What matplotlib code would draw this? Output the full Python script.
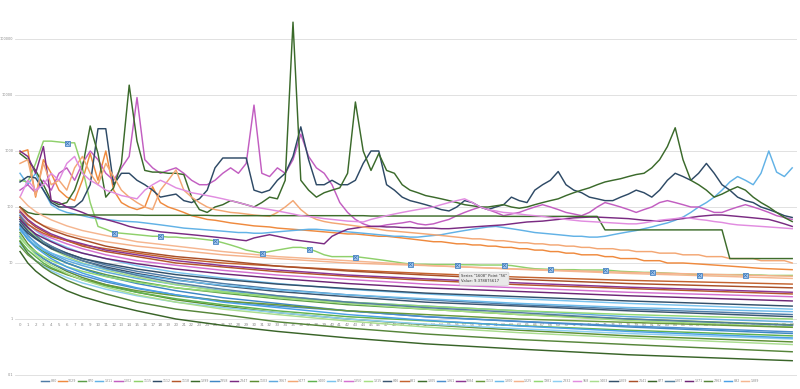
import numpy as np
import matplotlib
matplotlib.use("Agg")
import matplotlib.pyplot as plt

# category axis 0..99, log value axis
POINTS = list(range(100))
XS_SMOOTH = [0, 1, 2, 3, 4, 6, 8, 11, 15, 20, 26, 33, 42, 52, 64, 78, 99]
YTICKS = [0.1, 1, 10, 100, 1000, 10000, 100000]
YTICK_LABELS = ["0.1", "1", "10", "100", "1000", "10000", "100000"]

NAMES = ["880", "1029", "870", "1311", "1302", "1115", "1112", "1118", "1399", "2358",
         "2347", "1103", "1067", "1477", "1400", "874", "1350", "1315", "846", "881",
         "1305", "1361", "1084", "1113", "1300", "1325", "1981", "2332", "958", "1403",
         "1309", "2141", "877", "1307", "1371", "2363", "892", "1389"]

# ---- noisy series, one value per category ----
s1029 = [950, 1050, 150, 700, 400, 200, 150, 130, 300, 900,
         300, 1000, 200, 120, 100, 90, 100, 230, 120, 100,
         90, 80, 70, 65, 60, 58, 55, 52, 50, 48,
         46, 45, 44, 42, 41, 40, 39, 38, 37, 36,
         35, 34, 33, 33, 32, 31, 30, 30, 29, 28,
         27, 26, 25, 24, 24, 23, 22, 22, 21, 21,
         20, 20, 19, 19, 18, 18, 17, 17, 16, 16,
         15, 15, 14, 14, 14, 13, 13, 12, 12, 12,
         11, 11, 11, 10, 10, 10, 9.8, 9.6, 9.4, 9.2,
         9.0, 8.8, 8.6, 8.4, 8.2, 8.0, 7.9, 7.8, 7.7, 7.6]
s1311 = [400, 250, 400, 200, 110, 90, 80, 75, 70, 65,
         62, 60, 58, 56, 55, 54, 52, 50, 48, 46,
         44, 42, 41, 40, 39, 38, 37, 36, 35, 35,
         34, 34, 35, 36, 37, 38, 39, 40, 40, 39,
         38, 37, 36, 35, 34, 33, 32, 31, 30, 30,
         29, 29, 30, 31, 32, 34, 36, 38, 40, 42,
         44, 45, 43, 41, 39, 37, 35, 34, 33, 32,
         31, 30, 30, 29, 29, 30, 32, 34, 36, 38,
         41, 44, 48, 52, 58, 66, 80, 100, 120, 150,
         200, 280, 350, 300, 250, 400, 1000, 420, 350, 500]
s1302 = [200, 250, 180, 300, 200, 400, 500, 300, 600, 1000,
         700, 400, 300, 500, 800, 9000, 700, 500, 400, 450,
         500, 400, 300, 250, 250, 300, 400, 500, 400, 600,
         6600, 400, 350, 500, 400, 700, 2000, 800, 500, 400,
         250, 120, 80, 60, 50, 45, 45, 48, 50, 52,
         55, 50, 48, 50, 55, 60, 70, 80, 90, 100,
         90, 80, 70, 75, 80, 90, 100, 110, 100, 90,
         80, 75, 70, 80, 100, 120, 110, 100, 90, 80,
         90, 100, 120, 130, 120, 110, 100, 100, 90, 80,
         80, 90, 100, 110, 100, 90, 80, 70, 65, 60]
s1115 = [300, 280, 600, 1500, 1500, 1450, 1400, 1400, 500, 120,
         45, 40, 35, 34, 33, 32, 31, 30, 30, 29,
         29, 28, 28, 27, 26, 25, 23, 21, 19, 17,
         16, 15, 16, 17, 18, 19, 19, 18, 16, 14,
         13, 13, 13, 13, 12.5, 12, 11.5, 11, 10.5, 10,
         9.6, 9.5, 9.5, 9.4, 9.4, 9.4, 9.378875617, 9.3, 9.3, 9.2,
         9.2, 9.2, 9.2, 9.0, 8.6, 8.2, 7.9, 7.8, 7.7, 7.6,
         7.6, 7.6, 7.5, 7.5, 7.5, 7.5, 7.3, 7.1, 7.0, 6.9,
         6.8, 6.8, 6.7, 6.6, 6.5, 6.4, 6.3, 6.2, 6.2, 6.2,
         6.2, 6.2, 6.2, 6.2, 6.1, 6.1, 6.0, 6.0, 6.0, 6.0]
s1112 = [280, 350, 330, 200, 120, 100, 100, 100, 130, 250,
         2500, 2500, 250, 400, 400, 300, 250, 200, 150, 160,
         170, 130, 120, 140, 200, 500, 750, 750, 750, 750,
         200, 180, 200, 300, 400, 800, 2700, 700, 250, 250,
         300, 250, 250, 300, 600, 1000, 1000, 250, 200, 150,
         130, 120, 110, 100, 90, 85, 100, 130, 120, 100,
         90, 100, 110, 150, 130, 120, 200, 250, 300, 430,
         250, 200, 180, 150, 140, 130, 130, 150, 170, 200,
         180, 150, 200, 300, 400, 350, 300, 400, 600, 400,
         250, 200, 150, 130, 120, 100, 90, 80, 70, 65]
s1399 = [900, 700, 450, 250, 130, 110, 120, 200, 500, 2800,
         900, 150, 220, 600, 15000, 1500, 450, 420, 420, 400,
         400, 380, 150, 90, 80, 100, 110, 130, 120, 110,
         100, 120, 150, 140, 300, 200000, 300, 200, 150, 180,
         200, 220, 400, 7500, 1000, 450, 900, 450, 400, 250,
         200, 180, 160, 150, 140, 130, 120, 110, 105, 100,
         100, 105, 110, 100, 95, 100, 110, 120, 130, 140,
         160, 180, 200, 220, 250, 280, 300, 320, 350, 380,
         400, 500, 700, 1200, 2600, 700, 300, 250, 200, 150,
         170, 200, 230, 200, 150, 120, 100, 80, 65, 55]
s2347 = [1000, 800, 400, 1200, 130, 120, 100, 90, 80, 70,
         65, 60, 55, 50, 45, 42, 40, 38, 36, 35,
         34, 33, 32, 31, 30, 29, 28, 27, 26, 25,
         28, 30, 32, 30, 28, 26, 25, 24, 23, 22,
         30, 35, 40, 42, 44, 45, 45, 44, 44, 43,
         43, 42, 42, 42, 41, 41, 42, 43, 44, 45,
         46, 47, 48, 50, 52, 54, 55, 56, 58, 60,
         62, 64, 65, 66, 66, 65, 64, 63, 62, 60,
         58, 57, 56, 58, 60, 62, 65, 68, 70, 72,
         72, 70, 68, 66, 64, 62, 60, 55, 50, 45]
s1477 = [600, 700, 160, 600, 250, 300, 200, 500, 800, 400,
         250, 600, 350, 200, 150, 120, 100, 90, 200, 300,
         460, 200, 150, 120, 100, 90, 85, 80, 78, 75,
         72, 70, 68, 80, 100, 130, 90, 70, 60, 55,
         52, 50, 48, 46, 44, 42, 40, 38, 37, 36,
         35, 34, 33, 32, 31, 30, 29, 28, 27, 27,
         26, 25, 25, 24, 23, 23, 22, 22, 21, 21,
         20, 20, 19, 19, 18, 18, 18, 17, 17, 16,
         16, 16, 15, 15, 15, 14, 14, 14, 13, 13,
         13, 12, 12, 12, 12, 11, 11, 11, 11, 10]
s1305 = [100, 80, 74, 74, 73, 73, 73, 73, 72, 72,
         72, 72, 72, 72, 72, 72, 71, 71, 71, 71,
         71, 71, 71, 71, 71, 70, 70, 70, 70, 70,
         70, 70, 70, 70, 70, 70, 70, 70, 70, 70,
         70, 70, 70, 70, 70, 69, 69, 69, 69, 69,
         69, 69, 69, 69, 69, 69, 69, 69, 69, 69,
         69, 69, 68, 68, 68, 68, 68, 68, 68, 68,
         68, 68, 68, 68, 68, 39, 39, 39, 39, 39,
         39, 39, 39, 39, 39, 39, 39, 39, 39, 39,
         39, 12, 12, 12, 12, 12, 12, 12, 12, 12]
s958 = [150, 300, 200, 250, 400, 300, 600, 800, 400, 300,
        250, 200, 180, 160, 150, 140, 200, 250, 300, 260,
        220, 200, 180, 170, 160, 150, 140, 130, 120, 110,
        100, 95, 90, 85, 80, 75, 70, 68, 65, 62,
        60, 58, 56, 55, 54, 60, 65, 70, 75, 80,
        85, 90, 95, 100, 110, 120, 130, 140, 120, 100,
        90, 85, 80, 78, 75, 72, 70, 68, 65, 63,
        60, 58, 56, 55, 54, 53, 52, 51, 50, 50,
        52, 55, 58, 60, 62, 65, 63, 60, 58, 55,
        53, 50, 48, 47, 46, 45, 44, 43, 42, 41]

# ---- smooth decaying series, values at XS_SMOOTH ----
s880 = [60, 40, 30, 24, 20, 15, 12, 9.2, 7.1, 5.5, 4.3, 3.4, 2.7, 2.2, 1.8, 1.5, 1.2]
s870 = [40, 27, 20, 16, 13, 10, 8.0, 6.2, 4.7, 3.6, 2.9, 2.3, 1.8, 1.5, 1.2, 1.0, 0.79]
s1118 = [80, 57, 44, 37, 31, 25, 20, 16, 13, 10, 8.5, 7.0, 5.8, 4.9, 4.1, 3.5, 2.8]
s2358 = [50, 31, 23, 17, 14, 10, 7.9, 5.8, 4.3, 3.2, 2.4, 1.9, 1.4, 1.1, 0.9, 0.72, 0.55]
s1103 = [35, 22, 16, 12, 9.9, 7.1, 5.5, 4.1, 3.0, 2.2, 1.7, 1.3, 1.0, 0.79, 0.63, 0.5, 0.39]
s1067 = [45, 30, 23, 18, 15, 11, 9.0, 6.9, 5.3, 4.1, 3.2, 2.6, 2.0, 1.7, 1.4, 1.1, 0.89]
s1400 = [25, 17, 13, 10, 8.3, 6.3, 5.0, 3.9, 3.0, 2.3, 1.8, 1.4, 1.1, 0.93, 0.76, 0.63, 0.5]
s874 = [75, 50, 38, 30, 25, 19, 15, 12, 8.9, 6.8, 5.4, 4.3, 3.4, 2.8, 2.3, 1.9, 1.5]
s1350 = [70, 50, 39, 32, 28, 22, 18, 14, 11, 9.1, 7.4, 6.1, 5.1, 4.2, 3.6, 3.0, 2.5]
s1315 = [65, 41, 29, 23, 18, 13, 10, 7.5, 5.6, 4.1, 3.1, 2.4, 1.9, 1.5, 1.2, 0.94, 0.72]
s846 = [55, 37, 28, 22, 18, 14, 11, 8.5, 6.5, 5.0, 3.9, 3.1, 2.5, 2.0, 1.7, 1.4, 1.1]
s881 = [65, 49, 40, 34, 30, 25, 21, 18, 15, 12, 10, 8.8, 7.5, 6.5, 5.6, 4.9, 4.2]
s1361 = [30, 20, 15, 12, 10, 7.5, 6.0, 4.6, 3.5, 2.7, 2.1, 1.7, 1.4, 1.1, 0.91, 0.75, 0.59]
s1084 = [85, 60, 47, 39, 33, 26, 22, 17, 14, 11, 9.0, 7.5, 6.1, 5.2, 4.4, 3.7, 3.0]
s1113 = [20, 14, 11, 9.2, 7.9, 6.2, 5.1, 4.1, 3.2, 2.6, 2.1, 1.8, 1.4, 1.2, 1.0, 0.87, 0.71]
s1300 = [38, 27, 21, 17, 15, 12, 9.7, 7.8, 6.2, 4.9, 4.0, 3.3, 2.7, 2.3, 1.9, 1.6, 1.35]
s1325 = [90, 68, 55, 47, 42, 34, 29, 24, 20, 17, 14, 12, 10, 9.0, 7.8, 6.8, 5.8]
s1981 = [28, 20, 16, 13, 11, 8.6, 7.1, 5.7, 4.5, 3.6, 3.0, 2.5, 2.0, 1.7, 1.4, 1.2, 1.0]
s2332 = [22, 15, 11, 8.8, 7.3, 5.5, 4.4, 3.4, 2.6, 2.0, 1.6, 1.3, 1.0, 0.81, 0.67, 0.55, 0.44]
s1403 = [32, 20, 14, 11, 9.1, 6.5, 5.0, 3.7, 2.7, 2.0, 1.5, 1.2, 0.92, 0.72, 0.57, 0.46, 0.35]
s1309 = [48, 34, 27, 22, 19, 15, 12, 9.8, 7.8, 6.2, 5.1, 4.2, 3.5, 2.9, 2.5, 2.1, 1.7]
s2141 = [100, 71, 56, 46, 39, 31, 26, 20, 16, 13, 11, 8.8, 7.2, 6.1, 5.1, 4.3, 3.6]
s877 = [16, 10, 7.2, 5.6, 4.5, 3.2, 2.5, 1.9, 1.4, 1.0, 0.77, 0.6, 0.46, 0.36, 0.29, 0.23, 0.18]
s1307 = [70, 44, 32, 24, 20, 14, 11, 8.1, 6.0, 4.4, 3.4, 2.6, 2.0, 1.6, 1.3, 1.0, 0.77]
s1371 = [60, 43, 33, 28, 24, 18, 15, 12, 9.7, 7.8, 6.4, 5.3, 4.3, 3.6, 3.1, 2.6, 2.1]
s2363 = [24, 15, 11, 8.4, 6.8, 4.9, 3.8, 2.8, 2.0, 1.5, 1.2, 0.89, 0.69, 0.54, 0.43, 0.35, 0.26]
s892 = [42, 26, 19, 15, 12, 8.5, 6.6, 4.9, 3.6, 2.7, 2.0, 1.6, 1.2, 0.95, 0.75, 0.6, 0.46]
s1389 = [150, 106, 83, 69, 59, 46, 38, 31, 24, 20, 16, 13, 11, 9.1, 7.7, 6.5, 5.3]

# selected series handles
MARK_PTS = [6, 12, 18, 25, 31, 37, 43, 50, 56, 62, 68, 75, 81, 87, 93]

COLORS = ["#4f7ca6", "#ef8a3e", "#5b9d47", "#62b2e6", "#c25ec1", "#8fd06b", "#2e4a66", "#b4572b",
          "#3b6a2b", "#3f87c5", "#7a2b82", "#5d8e33", "#5fa9de", "#f3a774", "#5fb24f", "#79c3ee",
          "#d470d1", "#a6de83", "#3a5570", "#c4632f", "#3e6d2c", "#4b8dcd", "#8b3692", "#68983b",
          "#6bbaea", "#f4b28b", "#93d874", "#8dcef1", "#e18ce0", "#aadd8f", "#33506a", "#a94f28",
          "#396428", "#557f9e", "#6e2676", "#56853a", "#4aa0e6", "#f5b690"]

full = {"1029": s1029, "1311": s1311, "1302": s1302, "1115": s1115, "1112": s1112,
        "1399": s1399, "2347": s2347, "1477": s1477, "1305": s1305, "958": s958}
smooth = {"880": s880, "870": s870, "1118": s1118, "2358": s2358, "1103": s1103,
          "1067": s1067, "1400": s1400, "874": s874, "1350": s1350, "1315": s1315,
          "846": s846, "881": s881, "1361": s1361, "1084": s1084, "1113": s1113,
          "1300": s1300, "1325": s1325, "1981": s1981, "2332": s2332, "1403": s1403,
          "1309": s1309, "2141": s2141, "877": s877, "1307": s1307, "1371": s1371,
          "2363": s2363, "892": s892, "1389": s1389}

W, H = 800, 389
fig = plt.figure(figsize=(W / 100, H / 100), dpi=100, facecolor="white")
# pixel layout: category 0 at x=20, 7.8 px per category; 10^5 at y=39, 56 px per decade
left_px, right_px = 15, 797
ax = fig.add_axes([left_px / W, 0, (right_px - left_px) / W, 1])
ax.set_xlim((left_px - 20) / 7.8, (right_px - 20) / 7.8)
ax.set_yscale("log")
ax.set_ylim(10 ** (5 - (H - 39) / 56), 10 ** (5 + 39 / 56))
for s in ["top", "right", "left"]:
    ax.spines[s].set_visible(False)
ax.spines["bottom"].set_position(("data", 1))
ax.spines["bottom"].set_visible(False)

ax.set_yticks(YTICKS)
ax.set_yticklabels(YTICK_LABELS)
ax.yaxis.set_minor_locator(matplotlib.ticker.NullLocator())
ax.tick_params(axis="y", length=0, pad=1.2, labelsize=2.5, labelcolor="#8a8a8a")
ax.set_xticks(POINTS)
ax.set_xticklabels([str(p) for p in POINTS])
ax.tick_params(axis="x", length=0, pad=2.6, labelsize=2.9, labelcolor="#8a8a8a")
ax.grid(axis="y", which="major", color="#dcdcdc", linewidth=0.6)
ax.set_axisbelow(True)

handles = []
for name, col in zip(NAMES, COLORS):
    if name in full:
        xs, ys = POINTS, full[name]
    else:
        xs, ys = XS_SMOOTH, smooth[name]
    ln, = ax.plot(xs, ys, color=col, linewidth=1.05, solid_joinstyle="round", zorder=2)
    handles.append(ln)
    if name == "1115":
        mx = [POINTS[i] for i in MARK_PTS]
        my = [s1115[i] for i in MARK_PTS]
        ax.plot(mx, my, linestyle="none", marker="s", markersize=3.6,
                markerfacecolor="#a8c9ee", markeredgecolor="#4a86c5", markeredgewidth=0.6, zorder=5)
        ax.plot(mx, my, linestyle="none", marker="x", markersize=2.6,
                color="#3d78b8", markeredgewidth=0.5, zorder=6)

# tooltip of the hovered point
fig.text(461 / W, 1 - 274 / H, 'Series "1608" Point "56"\nValue: 9.378875617',
         fontsize=2.7, color="#333333", va="top", ha="left", linespacing=1.5,
         bbox=dict(boxstyle="round,pad=0.5,rounding_size=0.4", facecolor="#e9e9e9",
                   edgecolor="#c9c9c9", linewidth=0.4), zorder=10)

fig.legend(handles, NAMES, loc="center", bbox_to_anchor=(400 / W, 1 - 381 / H), ncol=len(NAMES),
           fontsize=2.3, frameon=False, handlelength=2.6, handletextpad=0.45,
           columnspacing=0.4, labelcolor="#8a8a8a", borderaxespad=0, borderpad=0)

fig.savefig("out.png", dpi=100, facecolor="white")
